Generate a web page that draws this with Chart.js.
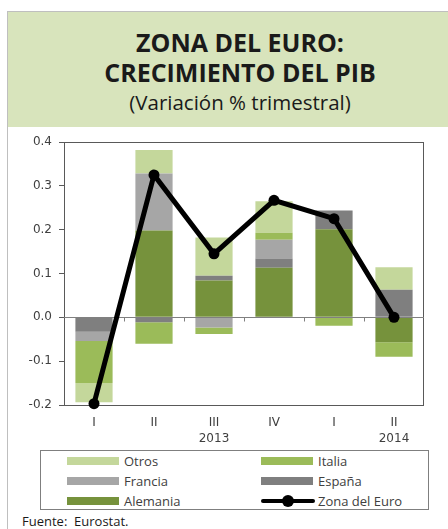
<!DOCTYPE html>
<html>
<head>
<meta charset="utf-8">
<script src="https://cdn.jsdelivr.net/npm/chart.js@4.4.1/dist/chart.umd.min.js"></script>
<style>
  html, body { margin: 0; padding: 0; background: #ffffff; width: 448px; height: 529px; overflow: hidden; }
  #wrap { position: relative; width: 448px; height: 529px; font-family: "Open Sans", sans-serif; color: #1a1a1a; }
  #header { position: absolute; left: 7px; top: 11px; width: 441px; height: 116px; background: #d8e4bc; border-top: 1px solid #bfbfbf; box-sizing: border-box; }
  #vline { position: absolute; left: 7px; top: 11px; width: 1px; height: 518px; background: #bfbfbf; }
  .tline { position: absolute; left: 0; width: 480px; text-align: center; white-space: nowrap; }
  #t1, #t2 { font-weight: bold; font-size: 25px; line-height: 28px; }
  #t1 { top: 28px; }
  #t2 { top: 58px; }
  #t3 { top: 89px; font-size: 20.5px; line-height: 26px; }
  #chartBox { position: absolute; left: 0; top: 127px; width: 448px; height: 323px; }
  #legend { position: absolute; left: 40px; top: 450px; width: 389px; height: 60px; border: 1px solid #7f7f7f; box-sizing: border-box; background: #fff; }
  .li { position: absolute; height: 20px; font-size: 13px; line-height: 20px; color: #404040; white-space: nowrap; }
  .sw { position: absolute; left: 0; top: 6px; width: 52px; height: 8px; }
  .lbl { position: absolute; left: 57px; top: 0; }
  #source { position: absolute; left: 22px; top: 512px; font-size: 13px; line-height: 18px; color: #1a1a1a; white-space: nowrap; }
</style>
</head>
<body>
<div id="wrap">
  <div id="header"></div>
  <div id="vline"></div>
  <div class="tline" id="t1">ZONA DEL EURO:</div>
  <div class="tline" id="t2">CRECIMIENTO DEL PIB</div>
  <div class="tline" id="t3">(Variación % trimestral)</div>
  <div id="chartBox"><canvas id="c" width="448" height="323"></canvas></div>
  <div id="legend"></div>
  <div id="source">Fuente:&nbsp; Eurostat.</div>
</div>
<script>
// ---- Data ----
const quarters = ['I', 'II', 'III', 'IV', 'I', 'II'];
const years = ['', '', '2013', '', '', '2014'];
const alemania = [0.000, 0.198, 0.084, 0.113, 0.201, -0.057];
const espana   = [-0.033, -0.011, 0.011, 0.021, 0.043, 0.063];
const francia  = [-0.021, 0.130, -0.023, 0.043, 0.000, 0.000];
const italia   = [-0.096, -0.049, -0.015, 0.016, -0.019, -0.033];
const otros    = [-0.044, 0.054, 0.087, 0.072, 0.000, 0.051];
const zonaEuro = [-0.197, 0.325, 0.145, 0.267, 0.225, 0.000];
const yTicks = [-0.2, -0.1, 0.0, 0.1, 0.2, 0.3, 0.4];

const seriesNames = ['Alemania', 'España', 'Francia', 'Italia', 'Otros', 'Zona del Euro'];
const seriesColors = ['#76923c', '#7f7f7f', '#a6a6a6', '#9bbb59', '#c4d79b', '#000000'];
const legendOrder = [[4, 3], [2, 1], [0, 5]];

const barSeries = [alemania, espana, francia, italia, otros];
const datasets = barSeries.map((d, i) => ({
  type: 'bar',
  label: seriesNames[i],
  data: d,
  backgroundColor: seriesColors[i],
  borderWidth: 0,
  stack: 's',
  order: 1,
  barPercentage: 0.62,
  categoryPercentage: 1.0
}));
datasets.push({
  type: 'line',
  label: seriesNames[5],
  data: zonaEuro,
  borderColor: '#000000',
  backgroundColor: '#000000',
  borderWidth: 5,
  pointRadius: 5.5,
  pointHoverRadius: 5.5,
  pointBackgroundColor: '#000000',
  pointBorderWidth: 0,
  tension: 0,
  order: 0,
  clip: 8
});

const AXIS = '#595959';

const framePlugin = {
  id: 'frame',
  beforeDatasetsDraw(chart) {
    const a = chart.chartArea, ctx = chart.ctx;
    ctx.save();
    ctx.strokeStyle = AXIS;
    ctx.lineWidth = 1;
    ctx.strokeRect(Math.round(a.left) + 0.5, Math.round(a.top) + 0.5, Math.round(a.right - a.left) - 1, Math.round(a.bottom - a.top));
    ctx.restore();
  },
  beforeDatasetDraw(chart, args) {
    if (chart.data.datasets[args.index].type !== 'line') return;
    const a = chart.chartArea, ctx = chart.ctx;
    const x = chart.scales.x, y = chart.scales.y;
    const y0 = Math.round(y.getPixelForValue(0)) + 0.5;
    ctx.save();
    ctx.strokeStyle = '#808080';
    ctx.lineWidth = 1;
    ctx.beginPath();
    ctx.moveTo(a.left, y0);
    ctx.lineTo(a.right, y0);
    const n = quarters.length;
    for (let i = 0; i < n - 1; i++) {
      const bx = Math.round((x.getPixelForValue(i) + x.getPixelForValue(i + 1)) / 2) + 0.5;
      ctx.moveTo(bx, y0);
      ctx.lineTo(bx, y0 + 4);
    }
    ctx.stroke();
    ctx.restore();
  }
};

new Chart(document.getElementById('c'), {
  data: {
    labels: quarters.map((q, i) => [q, years[i]]),
    datasets: datasets
  },
  options: {
    responsive: false,
    animation: false,
    devicePixelRatio: 1,
    layout: { padding: { top: 15, right: 24, left: 0, bottom: 0 } },
    plugins: { legend: { display: false }, tooltip: { enabled: false } },
    scales: {
      x: {
        stacked: true,
        grid: { display: false, drawTicks: false },
        border: { display: false },
        ticks: { color: '#404040', font: { family: 'DejaVu Sans', size: 12, lineHeight: 1.3 }, padding: 10, maxRotation: 0, autoSkip: false },
        afterFit(s) { s.height = 45; }
      },
      y: {
        stacked: true,
        min: -0.2,
        max: 0.4,
        afterBuildTicks(s) { s.ticks = yTicks.map(v => ({ value: v })); },
        ticks: { color: '#404040', font: { family: 'DejaVu Sans', size: 12 }, padding: 7, callback: v => Number(v).toFixed(1) },
        grid: { drawOnChartArea: false, drawTicks: true, tickLength: 5, color: AXIS },
        border: { display: true, color: AXIS },
        afterFit(s) { s.width = 64; }
      }
    }
  },
  plugins: [framePlugin]
});

// ---- Legend (HTML, built from series arrays) ----
const legend = document.getElementById('legend');
const colX = [26, 220];
const rowY = [1, 21, 41];
legendOrder.forEach((row, r) => {
  row.forEach((si, c) => {
    const it = document.createElement('div');
    it.className = 'li';
    it.style.left = colX[c] + 'px';
    it.style.top = (rowY[r] - 1) + 'px';
    let sw;
    if (si === 5) {
      sw = '<div style="position:absolute;left:0;top:8px;width:54px;height:4px;background:#000;border-radius:2px"></div>' +
           '<div style="position:absolute;left:21px;top:4px;width:12px;height:12px;background:#000;border-radius:50%"></div>';
    } else {
      sw = '<div class="sw" style="background:' + seriesColors[si] + '"></div>';
    }
    it.innerHTML = sw + '<span class="lbl">' + seriesNames[si] + '</span>';
    legend.appendChild(it);
  });
});
</script>
</body>
</html>
